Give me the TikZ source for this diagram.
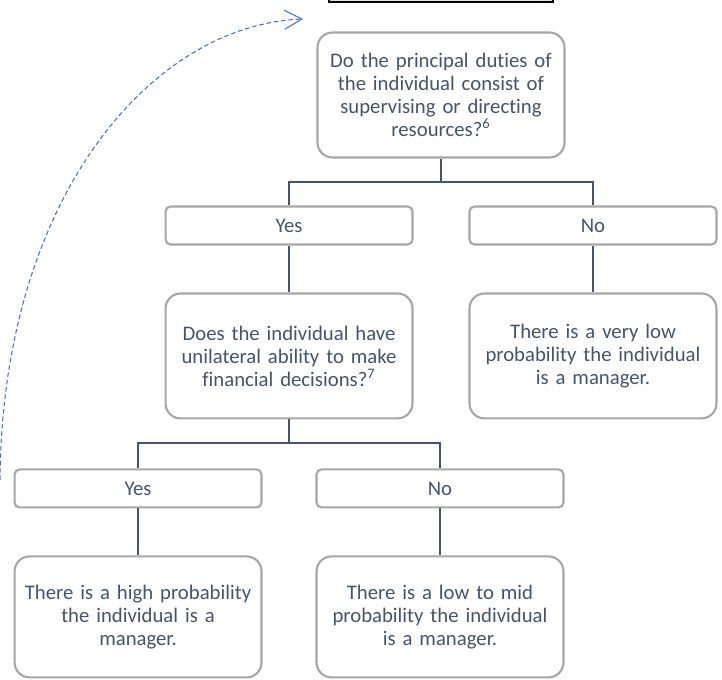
\documentclass[tikz,border=0pt]{standalone}
\usepackage{fontspec}
\setmainfont[Ligatures=NoCommon]{Carlito}
\usepackage{xcolor}
\usetikzlibrary{arrows.meta}
\definecolor{slate}{HTML}{44546A}
\definecolor{boxgrey}{HTML}{A6A6A6}
\definecolor{linkblue}{HTML}{4472C4}
\definecolor{bannerfill}{HTML}{DAE3F3}
\tikzset{
    flownode/.style = {align=center, inner sep=0pt, text centered, text=slate, font=\fontsize{11.8}{13.1}\selectfont},
    question/.style = {flownode, rectangle, rounded corners=0.3cm, draw=boxgrey, line width=1.2pt, minimum width=4.94cm, minimum height=2.5cm, text width=4.9cm},
    answer/.style = {flownode, rectangle, rounded corners=0.1cm, draw=boxgrey, line width=1.2pt, minimum width=4.94cm, minimum height=0.76cm},
    outcome/.style = {question, minimum height=2.42cm},
    banner/.style = {rectangle, draw=black, fill=bannerfill, line width=0.9pt, minimum width=4.48cm, minimum height=1cm},
    link/.style = {draw=linkblue, line width=0.6pt, dash pattern=on 2.6pt off 1.6pt, -{Straight Barb[length=0.35cm, width=0.38cm]}}
}
\begin{document}
\begin{tikzpicture}
            [x=0.02cm, y=-0.02cm,
            level 1/.style={sibling distance = 6.08cm, level distance = 2.61cm},
            level 2/.style={level distance = 2.61cm},
            level 3/.style={sibling distance = 6.04cm, level distance = 2.65cm},
            level 4/.style={level distance = 2.57cm},
            edge from parent/.style={draw=slate, line width=1.6pt},
            edge from parent path={(\tikzparentnode.south) -- ++(0,-0.47cm) -| (\tikzchildnode.north)}]

            \useasboundingbox (0,0) rectangle (722,679);
            \clip (0,0) rectangle (722,679);

            % title box, mostly above the page
            \node [banner, anchor=south] (title) at (441,3) {};

            \node (duties)
            [question] at (441,95) {Do the principal duties of\\ the individual consist of\\ supervising or directing\\ resources?\textsuperscript{6}}
            child {
                node (yesA) [answer] {Yes}
                child {
                    node (finance) [question] {Does the individual have\\ unilateral ability to make\\ financial decisions?\textsuperscript{7}}
                    child {
                        node (yesB) [answer] {Yes}
                        child { node (high) [outcome] {There is a high probability\\ the individual is a\\ manager.} }
                    }
                    child {
                        node (noB) [answer] {No}
                        child { node (lowmid) [outcome] {There is a low to mid\\ probability the individual\\ is a manager.} }
                    }
                }
            }
            child {
                node (noA) [answer] {No}
                child { node (verylow) [question] {There is a very low\\ probability the individual\\ is a manager.} }
            }
            ;

            % dashed link back to the title
            \coordinate (linkstart) at (0,480);
            \coordinate (linkend) at (303,19);
            \draw [link] (linkstart) .. controls (2,200) and (150,25) .. (linkend);
\end{tikzpicture}
\end{document}
